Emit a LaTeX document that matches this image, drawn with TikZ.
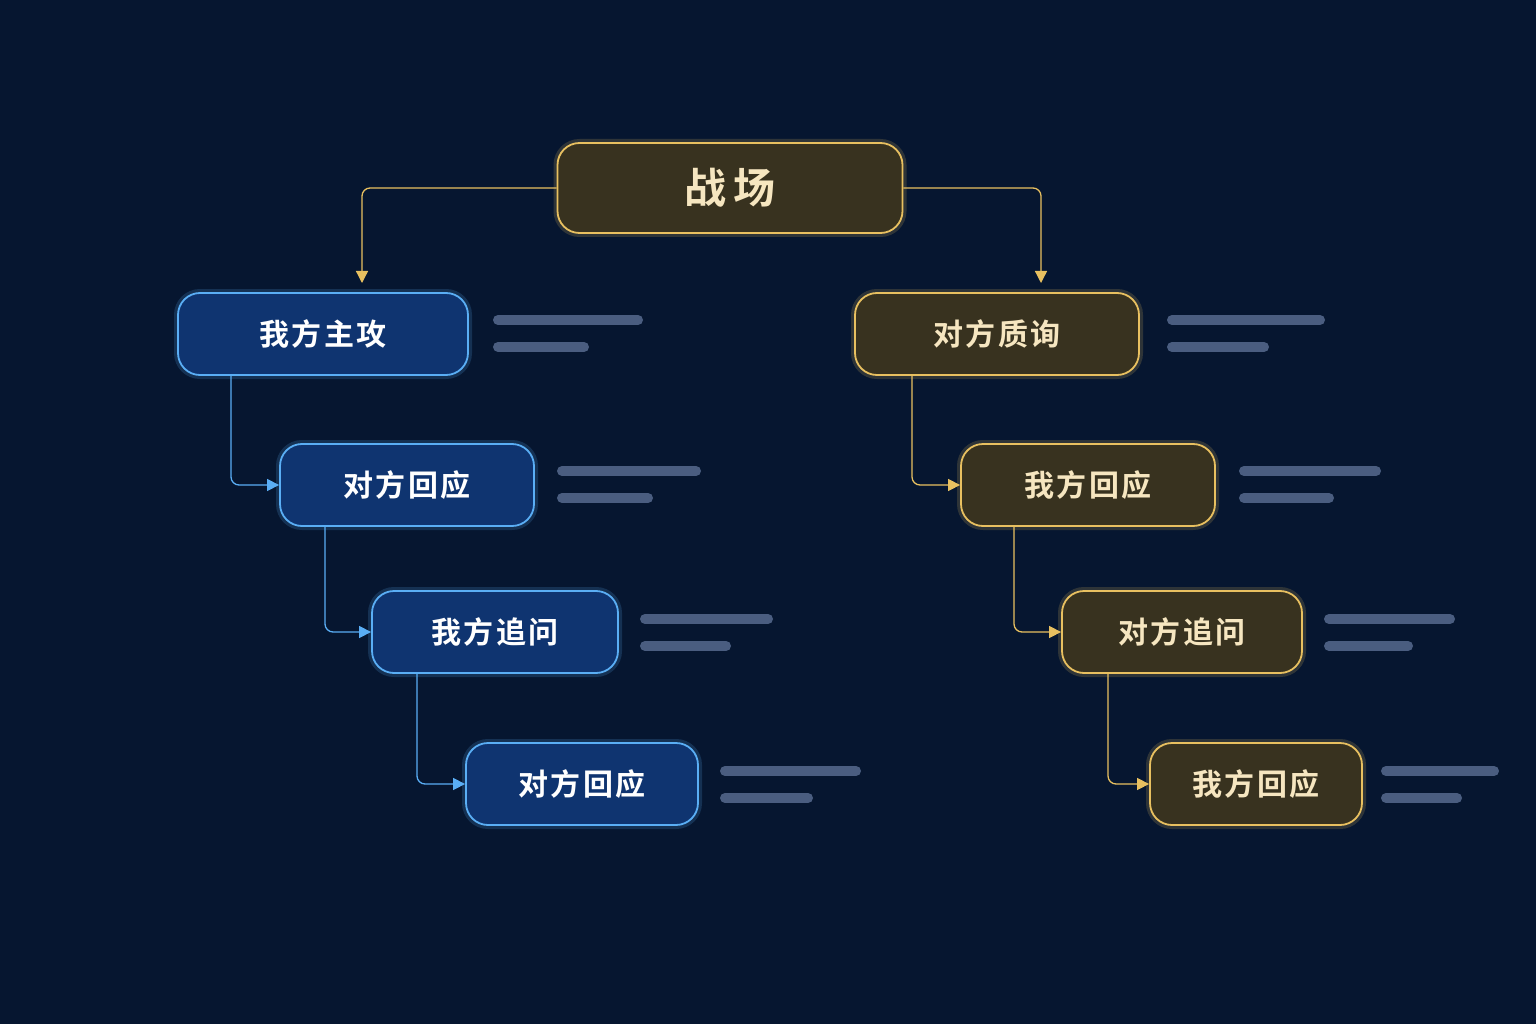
\documentclass[tikz,border=0pt]{standalone}
\usepackage{fontspec}
\newfontfamily\cjk{Noto Sans CJK SC Bold}[LetterSpace=8]
\usetikzlibrary{arrows.meta}
\definecolor{bg}{HTML}{061630}
\definecolor{bluel}{HTML}{5AAEF5}
\definecolor{bluef}{HTML}{0F3470}
\definecolor{goldl}{HTML}{E8C060}
\definecolor{goldf}{HTML}{38321F}
\definecolor{bar}{HTML}{4A5D80}
\begin{document}
\begin{tikzpicture}[x=1pt,y=-1pt,
 box/.style={rounded corners=22pt,line width=1.8pt,inner sep=0pt,font=\cjk\fontsize{30}{36}\selectfont,text=white},
 bbox/.style={box,draw=bluel,fill=bluef,preaction={draw=bluel,line width=8pt,opacity=0.18}},
 gbox/.style={box,draw=goldl,fill=goldf,text=goldl!40!white,preaction={draw=goldl,line width=8pt,opacity=0.18}},
 bcon/.style={draw=bluel,line width=1.3pt,rounded corners=8pt,-{Triangle[length=12pt,width=12pt]}},
 gcon/.style={draw=goldl,line width=1.3pt,rounded corners=8pt,-{Triangle[length=12pt,width=12pt]}},
 bars/.style={draw=bar,line width=10pt,line cap=round}]
\fill[bg] (0,0) rectangle (1536,1024);
\useasboundingbox (0,0) rectangle (1536,1024);
\node[gbox,minimum width=345pt,minimum height=90pt,font=\cjk\fontsize{42}{48}\selectfont] (root) at (730,188) {战\,场};
\node[bbox,minimum width=290pt,minimum height=82pt] (l1) at (323,334) {我方主攻};
\node[bbox,minimum width=254pt,minimum height=82pt] (l2) at (407,485) {对方回应};
\node[bbox,minimum width=246pt,minimum height=82pt] (l3) at (495,632) {我方追问};
\node[bbox,minimum width=232pt,minimum height=82pt] (l4) at (582,784) {对方回应};
\node[gbox,minimum width=284pt,minimum height=82pt] (r1) at (997,334) {对方质询};
\node[gbox,minimum width=254pt,minimum height=82pt] (r2) at (1088,485) {我方回应};
\node[gbox,minimum width=240pt,minimum height=82pt] (r3) at (1182,632) {对方追问};
\node[gbox,minimum width=212pt,minimum height=82pt] (r4) at (1256,784) {我方回应};
\coordinate (tl) at (362,283); \coordinate (tr) at (1041,283);
\draw[gcon] (root.west) -| (tl);
\draw[gcon] (root.east) -| (tr);
\draw[bcon] (l1.south -| 231,0) |- (l2.west);
\draw[bcon] (l2.south -| 325,0) |- (l3.west);
\draw[bcon] (l3.south -| 417,0) |- (l4.west);
\draw[gcon] (r1.south -| 912,0) |- (r2.west);
\draw[gcon] (r2.south -| 1014,0) |- (r3.west);
\draw[gcon] (r3.south -| 1108,0) |- (r4.west);
\foreach \a/\b/\c/\y in {498/638/584/320, 562/696/648/471, 645/768/726/619, 725/856/808/771, 1172/1320/1264/320, 1244/1376/1329/471, 1329/1450/1408/619, 1386/1494/1457/771}{
 \draw[bars] (\a,\y) -- (\b,\y);
 \draw[bars] (\a,\y+27) -- (\c,\y+27);
}
\end{tikzpicture}
\end{document}
